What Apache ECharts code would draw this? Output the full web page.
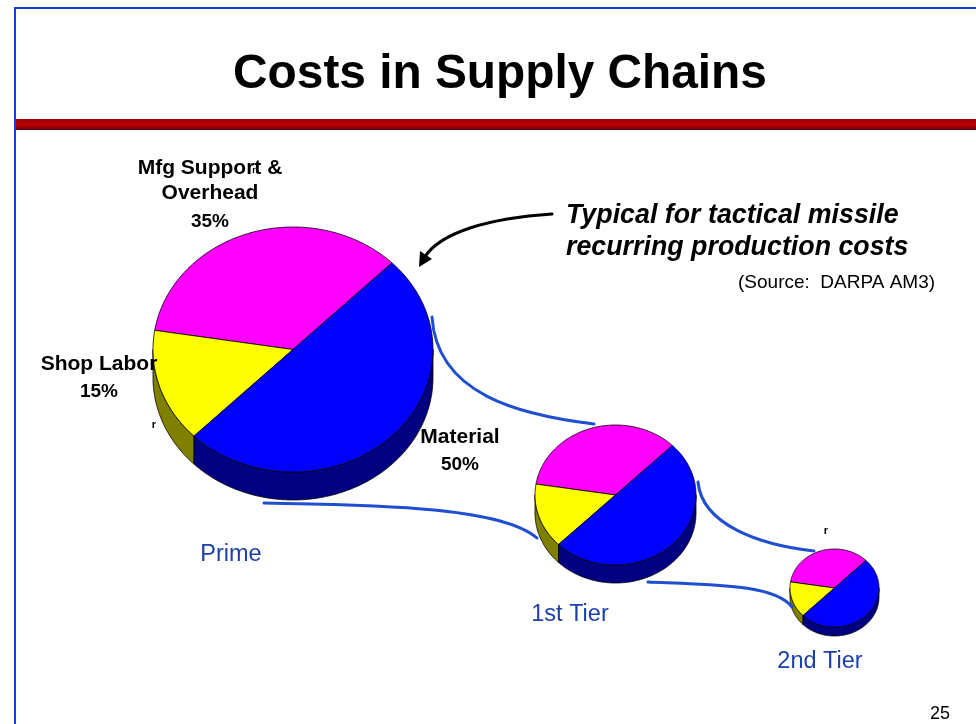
<!DOCTYPE html>
<html>
<head>
<meta charset="utf-8">
<title>Costs in Supply Chains</title>
<script src="https://cdn.jsdelivr.net/npm/echarts@6/dist/echarts.min.js"></script>
<style>
html, body { margin: 0; padding: 0; background: #fff; }
#main { width: 976px; height: 724px; }
</style>
</head>
<body>
<div id="main"></div>
<script>
// 数据
var sliceNames = ['Mfg Support &\nOverhead', 'Shop Labor', 'Material'];
var sliceShares = [35, 15, 50];
var tierNames = ['Prime', '1st Tier', '2nd Tier'];
var titleText = 'Costs in Supply Chains';
var noteLines = ['Typical for tactical missile', 'recurring production costs'];
var sourceText = '(Source:  DARPA AM3)';
var pageNumber = '25';

// 样式 + 位置
var topColors = ['#ff00ff', '#ffff00', '#0000ff'];
var wallColors = ['#800080', '#808000', '#000080'];
var startAngle = 45; // 逆时针，从右上开始
var pieBoxes = [ // cx, cy, rx, ry, depth
    [293, 349.5, 140, 122.5, 28],
    [615.5, 495, 80.5, 70, 18],
    [834.5, 588, 44.5, 39, 9]
];
var sliceLabelPos = [[210, 168], [99, 364], [460, 437]];
var tierLabelPos = [[231, 555], [570, 615], [820, 662]];
var fontName = '"Liberation Sans", Arial, sans-serif';
var curveBlue = '#1f4fd0';

// 饼图每一块一行：[tier, slice, 起始份额, 份额]
var pieRows = [];
for (var t = 0; t < tierNames.length; t++) {
    var acc = 0;
    for (var s = 0; s < sliceShares.length; s++) {
        pieRows.push([t, s, acc, sliceShares[s]]);
        acc += sliceShares[s];
    }
}

function rimPoints(box, a0, a1, drop) {
    var pts = [];
    var steps = Math.max(2, Math.ceil(Math.abs(a1 - a0)));
    for (var i = 0; i <= steps; i++) {
        var a = (a0 + (a1 - a0) * i / steps) * Math.PI / 180;
        pts.push([box[0] + box[2] * Math.cos(a), box[1] - box[3] * Math.sin(a) + drop]);
    }
    return pts;
}

function renderSlice(params, api) {
    var box = pieBoxes[api.value(0)];
    var idx = api.value(1);
    var a0 = startAngle + api.value(2) * 3.6;
    var a1 = a0 + api.value(3) * 3.6;
    var children = [];
    // 侧面，只画朝前的 180-360 度
    var w0 = Math.max(a0, 180);
    var w1 = Math.min(a1, 360);
    if (w1 > w0) {
        var wall = rimPoints(box, w0, w1, 0).concat(rimPoints(box, w1, w0, box[4]));
        children.push({
            type: 'polygon',
            shape: { points: wall },
            style: { fill: wallColors[idx], stroke: '#000', lineWidth: 0.8 }
        });
    }
    // 顶面
    var top = [[box[0], box[1]]].concat(rimPoints(box, a0, a1, 0));
    children.push({
        type: 'polygon',
        shape: { points: top },
        style: { fill: topColors[idx], stroke: '#000', lineWidth: 0.8 }
    });
    return { type: 'group', children: children };
}

function textEl(text, x, y, font, fill, align) {
    return {
        type: 'text',
        z: 20,
        style: {
            text: text,
            x: x,
            y: y,
            font: font,
            fill: fill,
            textAlign: align || 'center',
            textVerticalAlign: 'middle'
        }
    };
}

// [起点x, 起点y, 控制点1x, 控制点1y, 控制点2x, 控制点2y, 终点x, 终点y]
function curveEl(c, color, width) {
    return {
        type: 'bezierCurve',
        z: 10,
        shape: { x1: c[0], y1: c[1], cpx1: c[2], cpy1: c[3], cpx2: c[4], cpy2: c[5], x2: c[6], y2: c[7] },
        style: { fill: null, stroke: color, lineWidth: width, lineCap: 'round' }
    };
}

var elements = [
    // 边框和红条
    { type: 'rect', z: 1, shape: { x: 14, y: 7, width: 962, height: 2 }, style: { fill: '#0f3fdc' } },
    { type: 'rect', z: 1, shape: { x: 14, y: 7, width: 2, height: 717 }, style: { fill: '#0f3fdc' } },
    {
        type: 'rect',
        z: 1,
        shape: { x: 16, y: 119, width: 960, height: 11 },
        style: {
            fill: new echarts.graphic.LinearGradient(0, 0, 0, 1, [
                { offset: 0, color: '#a00008' },
                { offset: 0.6, color: '#b80000' },
                { offset: 1, color: '#5c0018' }
            ])
        }
    },
    // 连接曲线
    curveEl([432, 317, 437, 395, 520, 415, 594, 424], curveBlue, 3),
    curveEl([264, 503, 360, 505, 500, 505, 537, 538], curveBlue, 3),
    curveEl([698, 482, 702, 525, 760, 545, 814, 551], curveBlue, 3),
    curveEl([648, 582, 720, 585, 775, 585, 792, 607], curveBlue, 3),
    // 黑色箭头
    curveEl([552, 214, 490, 218, 440, 232, 424, 258], '#000', 3),
    { type: 'polygon', z: 10, shape: { points: [[419, 267], [420, 251], [432, 259]] }, style: { fill: '#000' } },
    // 说明文字
    textEl(noteLines[0], 566, 215.5, 'italic bold 26.8px ' + fontName, '#000', 'left'),
    textEl(noteLines[1], 566, 247.5, 'italic bold 26.8px ' + fontName, '#000', 'left'),
    textEl(sourceText, 738, 283, '19px ' + fontName, '#000', 'left'),
    textEl(pageNumber, 940, 714, '18px ' + fontName, '#000'),
    // 杂点
    textEl('r', 154, 425, 'bold 11px ' + fontName, '#000'),
    textEl('r', 826, 531, 'bold 11px ' + fontName, '#000'),
    textEl('r', 254, 171, 'bold 9px ' + fontName, '#000')
];

// 第一个饼的标签
for (var i = 0; i < sliceNames.length; i++) {
    var lines = sliceNames[i].split('\n');
    var pos = sliceLabelPos[i];
    for (var k = 0; k < lines.length; k++) {
        elements.push(textEl(lines[k], pos[0], pos[1] + k * 25, 'bold 21px ' + fontName, '#000'));
    }
    elements.push(textEl(sliceShares[i] + '%', pos[0], pos[1] + lines.length * 25 + (i === 0 ? 4 : 3), 'bold 19px ' + fontName, '#000'));
}
// 层级名称
for (var j = 0; j < tierNames.length; j++) {
    elements.push(textEl(tierNames[j], tierLabelPos[j][0], tierLabelPos[j][1], '23.5px ' + fontName, '#1c3fa8'));
}

var myChart = echarts.init(document.getElementById('main'));
myChart.setOption({
    backgroundColor: '#fff',
    animation: false,
    title: {
        text: titleText,
        left: 495,
        top: 46,
        textAlign: 'center',
        textStyle: { fontFamily: fontName, fontSize: 47.8, fontWeight: 'bold', color: '#000' }
    },
    graphic: { elements: elements },
    series: [{
        type: 'custom',
        coordinateSystem: 'none',
        renderItem: renderSlice,
        data: pieRows,
        silent: true,
        z: 5
    }]
});
</script>
</body>
</html>
